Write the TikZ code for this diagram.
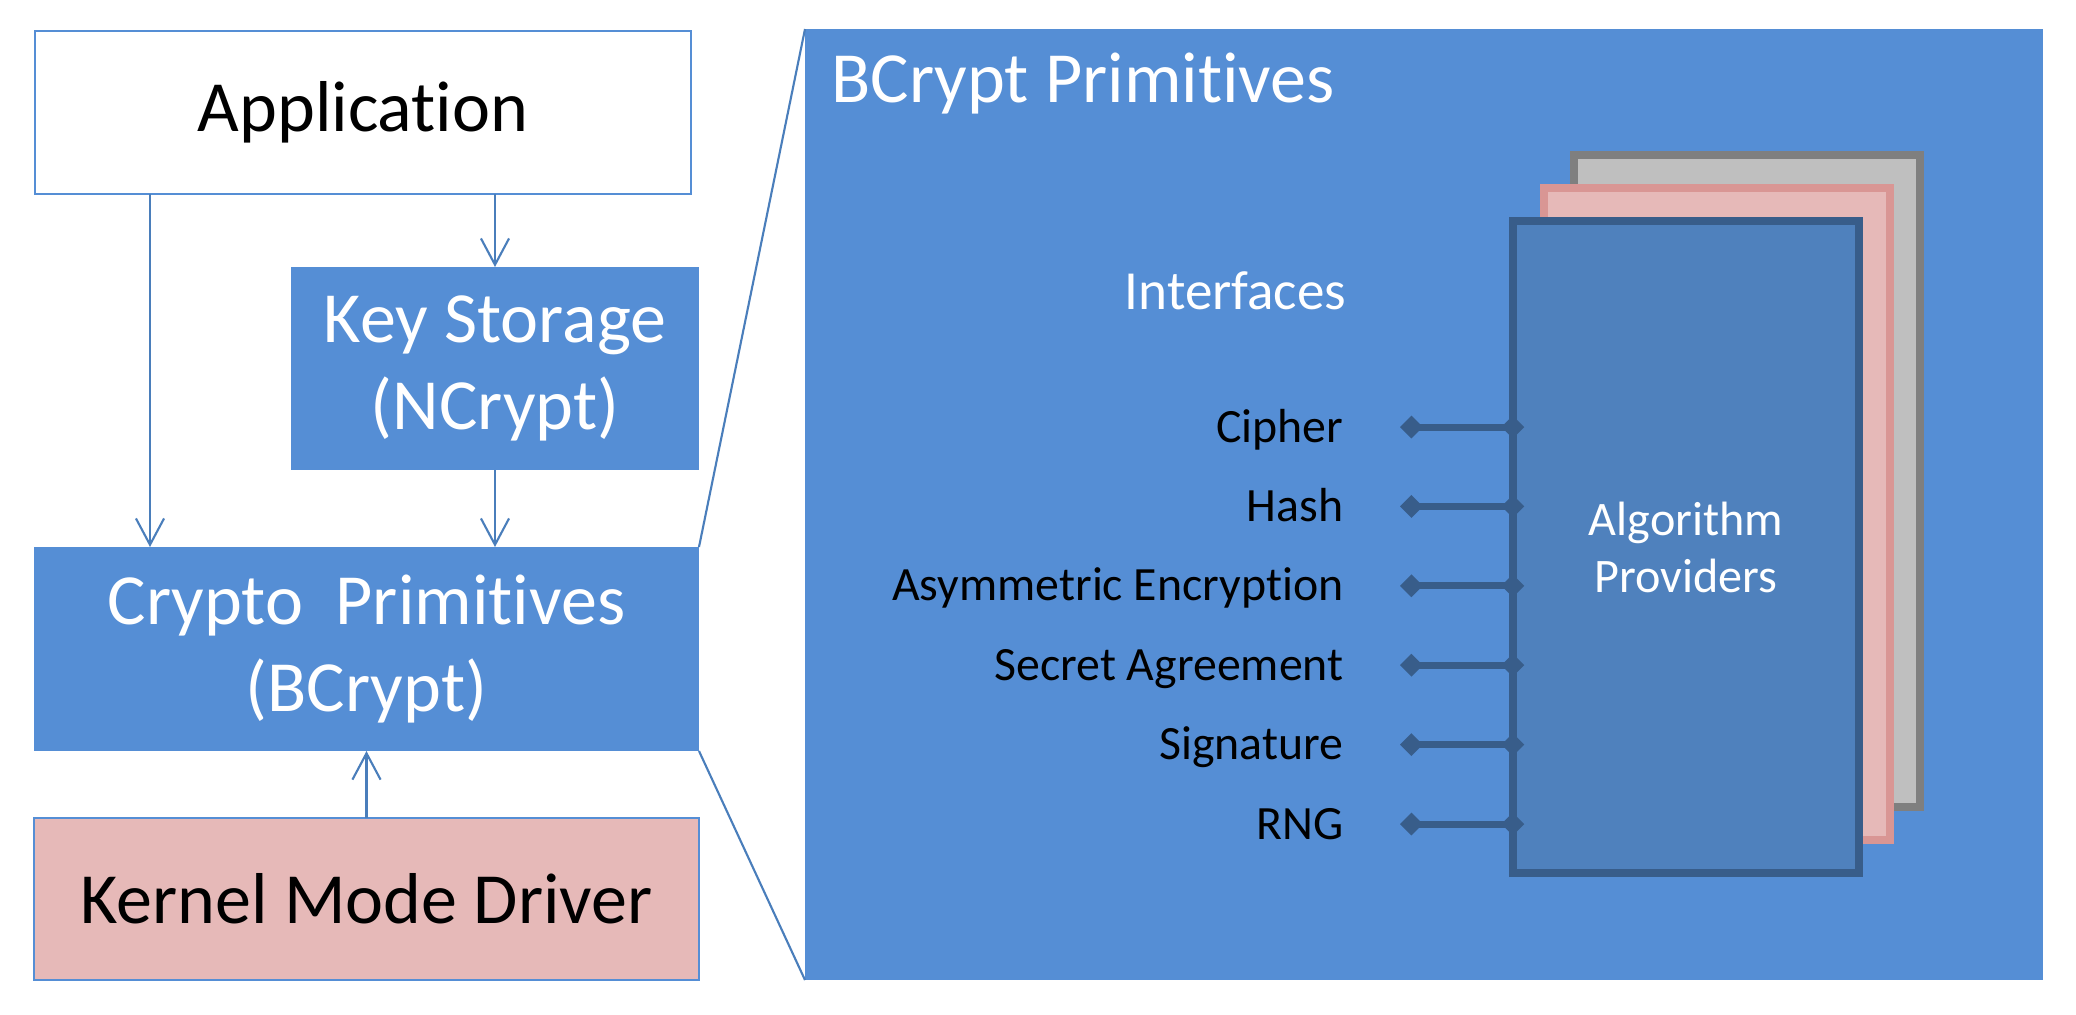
\documentclass[tikz,border=0pt]{standalone}
\usepackage{fontspec}
\setmainfont[Ligatures=NoCommon]{Carlito}
\usetikzlibrary{arrows.meta}
\definecolor{panelblue}{HTML}{558ED5}
\definecolor{lineblue}{HTML}{4A7EBB}
\definecolor{darkblue}{HTML}{385D8A}
\definecolor{algoblue}{HTML}{4F81BD}
\definecolor{pinkfill}{HTML}{E6B9B8}
\definecolor{pinkline}{HTML}{D99694}
\definecolor{grayfill}{HTML}{BFBFBF}
\definecolor{grayline}{HTML}{7F7F7F}
\begin{document}
\begin{tikzpicture}[x=0.1mm,y=-0.1mm,
  bigfont/.style={font=\fontsize{20.5pt}{24.7pt}\selectfont},
  block/.style={inner sep=0pt, outer sep=0pt, align=center, bigfont},
  flow/.style={draw=lineblue, line width=0.6pt, -{Straight Barb[length=7.5pt,width=8pt]}},
  zoomline/.style={draw=lineblue, line width=0.6pt},
  iface/.style={draw=darkblue, line width=2pt, {Diamond[length=6.5pt,width=6.5pt]}-{Diamond[length=6.5pt,width=6.5pt]}, shorten >=-3.2pt},
  ilabel/.style={anchor=base east, inner sep=0pt, font=\fontsize{13.6pt}{16pt}\selectfont},
  sheet/.style={minimum width=34.6mm, minimum height=65.2mm, line width=2.3pt, inner sep=0pt, outer sep=0pt}
]
\useasboundingbox (0,0) rectangle (2076,1014);
\fill[white] (0,0) rectangle (2076,1014);

% left column
\node[block, draw=panelblue, line width=0.7pt, fill=white, minimum width=65.6mm, minimum height=16.3mm] (app) at (363,112.5) {Application};
\node[block, fill=panelblue, text=white, minimum width=40.8mm, minimum height=20.3mm] (ks) at (495,368.5) {Key Storage\\(NCrypt)};
\node[block, fill=panelblue, text=white, minimum width=66.5mm, minimum height=20.4mm] (crypto) at (366.5,649) {Crypto\ \ Primitives\\(BCrypt)};
\node[block, draw=panelblue, line width=0.7pt, fill=pinkfill, minimum width=66.5mm, minimum height=16.2mm] (kmd) at (366.5,899) {Kernel Mode Driver};

% right panel
\node[inner sep=0pt, outer sep=0pt, fill=panelblue, minimum width=123.8mm, minimum height=95.1mm] (panel) at (1424,504.5) {};
\node[anchor=base west, inner sep=0pt, text=white, bigfont] (title) at (831,102) {BCrypt Primitives};
\node[anchor=base east, inner sep=0pt, text=white, font=\fontsize{15.7pt}{18pt}\selectfont] (ifhead) at (1347,309) {Interfaces};

% stacked provider sheets
\node[sheet, draw=grayline, fill=grayfill] (sheetgray) at (1747,481) {};
\node[sheet, draw=pinkline, fill=pinkfill] (sheetpink) at (1717,514) {};
\node[sheet, draw=darkblue, fill=algoblue, text=white, align=center, font=\fontsize{13.7pt}{16.2pt}\selectfont] (algo) at (1686,547) {Algorithm\\Providers};

% arrows
\coordinate (leftx) at (150,0);
\draw[flow] (app.south -| leftx) -- (crypto.north -| leftx);
\draw[flow] (app.south -| ks.north) -- (ks.north);
\draw[flow] (ks.south) -- (ks.south |- crypto.north);
\draw[flow] (kmd.north) -- (crypto.south);

% zoom lines
\draw[zoomline] (crypto.north east) -- (panel.north west);
\draw[zoomline] (crypto.south east) -- (panel.south west);

% interfaces
\foreach \i/\name in {0/Cipher,1/Hash,2/Asymmetric Encryption,3/Secret Agreement,4/Signature,5/RNG}{
  \coordinate (l\i) at (1400,427+79.4*\i);
  \draw[iface] (l\i) -- (l\i -| algo.west);
  \node[ilabel] (lab\i) at (1344,442+79.4*\i) {\name};
}
\end{tikzpicture}
\end{document}
